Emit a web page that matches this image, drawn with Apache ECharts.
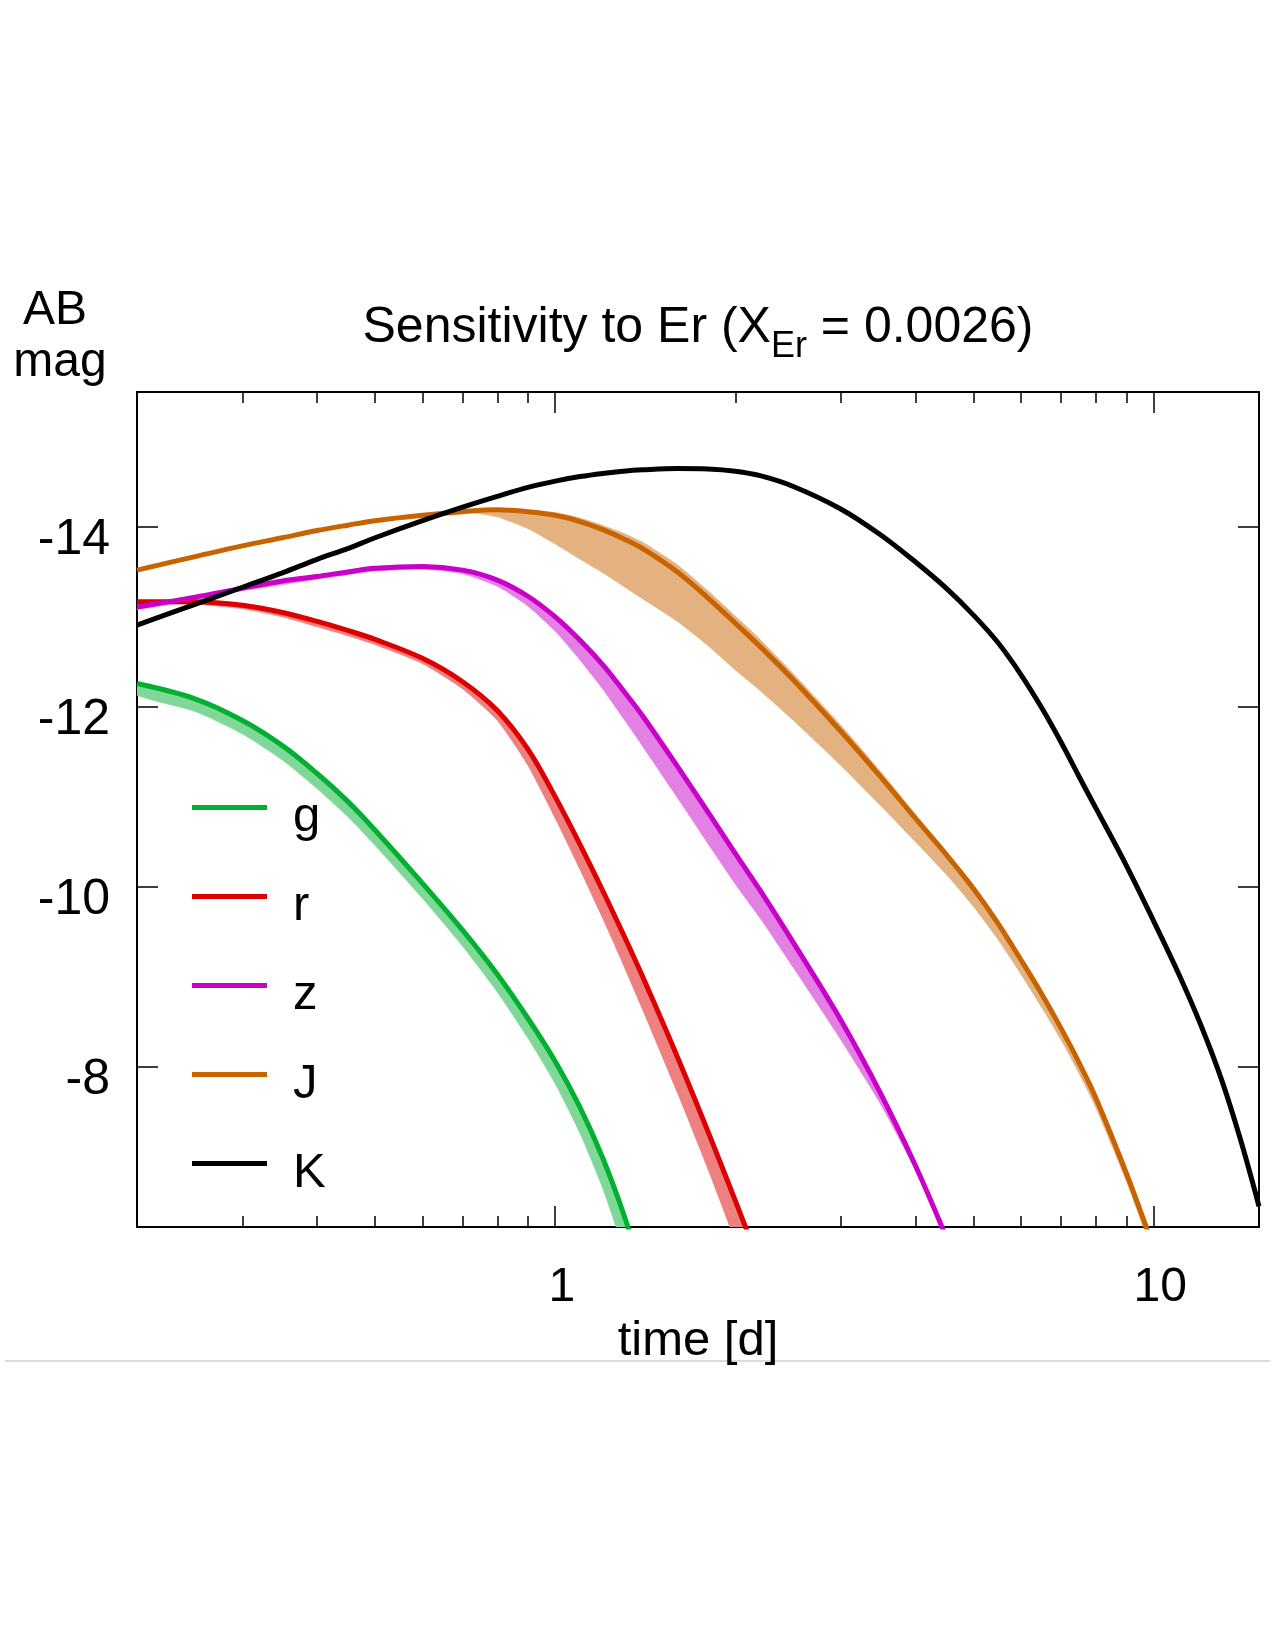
<!DOCTYPE html>
<html><head><meta charset="utf-8">
<script src="https://cdn.jsdelivr.net/npm/echarts@6/dist/echarts.min.js"></script>
<style>html,body{margin:0;padding:0;background:#fff}#c{width:1275px;height:1650px}</style>
</head><body><div id="c"></div>
<script>
// ---- data (time in days, AB magnitude) ----
const times = [0.2,0.25,0.3,0.35,0.4,0.45,0.5,0.6,0.7,0.8,0.9,1.0,1.1,1.2,1.3,1.4,1.6,1.8,2.0,2.2,2.5,3.0,3.5,4.0,4.5,5,5.5,6,6.5,7,7.5,8,9,10,11,12,13,14,15];
const N = null;
const gMain  = [-12.26,-12.09,-11.85,-11.57,-11.26,-10.95,-10.63,-10.04,-9.52,-9.03,-8.54,-8.06,-7.55,-6.99,-6.37,-5.69,N,N,N,N,N,N,N,N,N,N,N,N,N,N,N,N,N,N,N,N,N,N,N];
const gFaint = [-12.13,-11.95,-11.70,-11.41,-11.09,-10.78,-10.46,-9.87,-9.34,-8.83,-8.32,-7.81,-7.26,-6.65,-5.97,-5.24,N,N,N,N,N,N,N,N,N,N,N,N,N,N,N,N,N,N,N,N,N,N,N];
const rMain  = [-13.17,-13.17,-13.13,-13.05,-12.95,-12.85,-12.75,-12.54,-12.28,-11.96,-11.53,-11.00,-10.47,-9.96,-9.47,-9.00,-8.11,-7.28,-6.51,-5.80,N,N,N,N,N,N,N,N,N,N,N,N,N,N,N,N,N,N,N];
const rFaint = [-13.15,-13.14,-13.09,-13.00,-12.89,-12.79,-12.69,-12.48,-12.20,-11.85,-11.35,-10.76,-10.19,-9.65,-9.13,-8.63,-7.71,-6.86,-6.06,-5.34,N,N,N,N,N,N,N,N,N,N,N,N,N,N,N,N,N,N,N];
const zMain  = [-13.11,-13.22,-13.32,-13.40,-13.45,-13.50,-13.54,-13.56,-13.52,-13.41,-13.23,-13.00,-12.74,-12.47,-12.18,-11.90,-11.34,-10.83,-10.37,-9.96,-9.38,-8.52,-7.70,-6.90,-6.11,N,N,N,N,N,N,N,N,N,N,N,N,N,N];
const zFaint = [-13.08,-13.19,-13.29,-13.36,-13.42,-13.47,-13.51,-13.53,-13.48,-13.34,-13.12,-12.84,-12.52,-12.20,-11.87,-11.56,-10.99,-10.48,-10.03,-9.65,-9.10,-8.30,-7.58,-6.85,-6.09,N,N,N,N,N,N,N,N,N,N,N,N,N,N];
const jMain  = [-13.52,-13.67,-13.79,-13.88,-13.96,-14.02,-14.07,-14.13,-14.17,-14.19,-14.17,-14.13,-14.06,-13.97,-13.87,-13.76,-13.50,-13.21,-12.93,-12.67,-12.30,-11.73,-11.22,-10.76,-10.36,-9.98,-9.59,-9.19,-8.81,-8.43,-8.05,-7.66,-6.82,-5.99,N,N,N,N,N];
const jBright= [-13.52,-13.67,-13.79,-13.88,-13.96,-14.02,-14.07,-14.13,-14.17,-14.19,-14.19,-14.16,-14.10,-14.02,-13.93,-13.83,-13.58,-13.29,-13.01,-12.75,-12.37,-11.80,-11.28,-10.81,-10.40,-10.02,-9.63,-9.22,-8.84,-8.46,-8.07,-7.68,-6.84,-6.01,N,N,N,N,N];
const jFaint = [-13.52,-13.67,-13.79,-13.88,-13.96,-14.02,-14.07,-14.13,-14.17,-14.11,-13.98,-13.81,-13.64,-13.49,-13.34,-13.20,-12.95,-12.68,-12.41,-12.18,-11.85,-11.35,-10.90,-10.50,-10.14,-9.78,-9.41,-9.03,-8.66,-8.30,-7.93,-7.55,-6.73,-5.91,N,N,N,N,N];
const kMain  = [-12.91,-13.14,-13.33,-13.49,-13.64,-13.76,-13.88,-14.07,-14.22,-14.34,-14.44,-14.51,-14.56,-14.595,-14.62,-14.635,-14.65,-14.645,-14.62,-14.57,-14.45,-14.20,-13.91,-13.61,-13.32,-13.02,-12.71,-12.36,-11.99,-11.61,-11.23,-10.88,-10.24,-9.62,-9.04,-8.46,-7.85,-7.17,-6.45];

const filterNames = ['g','r','z','J','K'];
const xMajorTicks = [1, 10];
const xMinorTicks = [0.3,0.4,0.5,0.6,0.7,0.8,0.9,2,3,4,5,6,7,8,9];
const yTicks = [-14, -12, -10, -8];

// ---- styling ----
const FONT = '"Liberation Sans", Arial, Helvetica, sans-serif';
const COL = {g:'#00b030', r:'#dd0000', z:'#c800c8', J:'#c86400', K:'#000000'};
const BAND = {g:'#80d898', r:'#ee8080', z:'#e380e3', J:'#e4b280'};
const XMIN = 0.2, XMAX = 15, YMIN = -15.5, YMAX = -6.22;

function bandSeries(key, hi, lo) {
  const data = [];
  times.forEach((t, i) => { if (hi[i] != null && lo[i] != null) data.push([t, hi[i], lo[i]]); });
  return {
    type: 'custom', name: key + ' band', clip: true, silent: true, z: 1,
    xAxisIndex: 0, yAxisIndex: 0,
    data: data, encode: {x: 0, y: [1, 2]},
    renderItem: function (params, api) {
      if (params.dataIndex !== 0) return null;
      const top = data.map(d => api.coord([d[0], d[1]]));
      const bot = data.map(d => api.coord([d[0], d[2]])).reverse();
      return {type: 'polygon', shape: {points: top.concat(bot), smooth: 0.2},
              style: {fill: BAND[key], stroke: BAND[key], lineWidth: 0.5}};
    }
  };
}
function lineSeries(key, vals) {
  return {
    type: 'line', name: key, xAxisIndex: 0, yAxisIndex: 0,
    data: times.map((t, i) => [t, vals[i]]),
    symbol: 'none', showSymbol: false, smooth: 0.35,
    connectNulls: false, clip: true, z: 3,
    lineStyle: {color: COL[key], width: 5}, itemStyle: {color: COL[key]}
  };
}

const axisLineStyle = {show: true, onZero: false, lineStyle: {color: '#000', width: 2}};
function xAx(pos, major) {
  return {
    type: 'log', logBase: 10, min: XMIN, max: XMAX, position: pos, gridIndex: 0,
    axisLine: major ? axisLineStyle : {show: false},
    axisTick: {show: true, inside: true, length: major ? 21 : 11,
               customValues: major ? xMajorTicks : xMinorTicks,
               lineStyle: {color: '#000', width: 1.5}},
    axisLabel: (major && pos === 'bottom') ? {
      show: true, customValues: xMajorTicks, fontSize: 48, fontFamily: FONT, color: '#000',
      margin: 37, padding: [0, 0, 0, 13], formatter: v => String(v)
    } : {show: false},
    splitLine: {show: false}, minorTick: {show: false}, minorSplitLine: {show: false},
    name: (major && pos === 'bottom') ? 'time [d]' : '',
    nameLocation: 'middle', nameGap: 86,
    nameTextStyle: {fontSize: 49, fontFamily: FONT, color: '#000'}
  };
}
function yAx(pos) {
  return {
    type: 'value', inverse: true, min: YMIN, max: YMAX, position: pos, gridIndex: 0,
    axisLine: axisLineStyle,
    axisTick: {show: true, inside: true, length: 21, customValues: yTicks,
               lineStyle: {color: '#000', width: 1.5}},
    axisLabel: pos === 'left' ? {show: true, customValues: yTicks, fontSize: 50, fontFamily: FONT,
               color: '#000', margin: 27, verticalAlign: 'top', lineHeight: 26} : {show: false},
    splitLine: {show: false}
  };
}

const chart = echarts.init(document.getElementById('c'), null, {renderer: 'canvas'});
chart.setOption({
  animation: false,
  backgroundColor: '#ffffff',
  title: {
    text: '{a|Sensitivity to Er (X}{s|Er}{a| = 0.0026)}',
    left: 698, top: 291, textAlign: 'center', padding: 0,
    textStyle: {fontWeight: 'normal', rich: {
      a: {fontSize: 50, lineHeight: 74, fontFamily: FONT, fontWeight: 'normal', color: '#000', verticalAlign: 'middle'},
      s: {fontSize: 36, lineHeight: 36, fontFamily: FONT, fontWeight: 'normal', color: '#000', verticalAlign: 'bottom'}
    }}
  },
  grid: {left: 137, right: 16, top: 392, bottom: 423, containLabel: false},
  xAxis: [xAx('bottom', true), xAx('bottom', false), xAx('top', true), xAx('top', false)],
  yAxis: [yAx('left'), yAx('right')],
  legend: {
    data: filterNames, orient: 'vertical', left: 192, top: 778, padding: 0,
    itemWidth: 75, itemHeight: 5, itemGap: 25, icon: 'rect', selectedMode: false,
    formatter: name => '{e| }\n{t|' + name + '}',
    textStyle: {fontSize: 49, fontFamily: FONT, color: '#000', rich: {
      e: {fontSize: 10, lineHeight: 20, fontFamily: FONT, color: '#000'},
      t: {fontSize: 49, lineHeight: 49, fontFamily: FONT, color: '#000', padding: [0, 0, 0, 21]}
    }}
  },
  graphic: [
    {type: 'text', x: 55, y: 311, silent: true,
     style: {text: 'AB', fontSize: 48, fontFamily: FONT, fill: '#000', align: 'center', verticalAlign: 'middle'}},
    {type: 'text', x: 60, y: 363, silent: true,
     style: {text: 'mag', fontSize: 48, fontFamily: FONT, fill: '#000', align: 'center', verticalAlign: 'middle'}},
    {type: 'line', silent: true, shape: {x1: 5, y1: 1361, x2: 1270, y2: 1361},
     style: {stroke: '#cfcfcf', lineWidth: 1.5}}
  ],
  series: [
    bandSeries('g', gMain, gFaint),
    bandSeries('r', rMain, rFaint),
    bandSeries('z', zMain, zFaint),
    bandSeries('J', jBright, jFaint),
    lineSeries('g', gMain),
    lineSeries('r', rMain),
    lineSeries('z', zMain),
    lineSeries('J', jMain),
    lineSeries('K', kMain)
  ]
});
</script>
</body></html>
